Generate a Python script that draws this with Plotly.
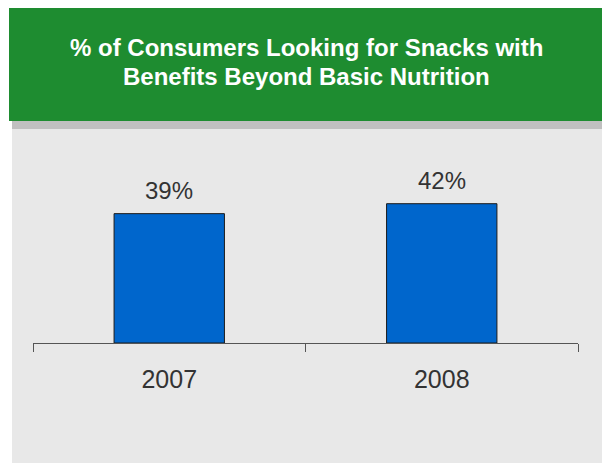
import plotly.graph_objects as go

years = ["2007", "2008"]
values = [39, 42]
labels = ["39%", "42%"]
title_lines = ["% of Consumers Looking for Snacks with", "Benefits Beyond Basic Nutrition"]

W, H = 610, 463
FONT = "Liberation Sans, Arial, Helvetica, sans-serif"

def px(x):
    return x / W

def py(y):
    return 1 - y / H

fig = go.Figure()
fig.add_trace(go.Bar(
    x=years, y=values,
    marker=dict(color="#0066CC", line=dict(color="#1a1a1a", width=1)),
    width=0.405, hoverinfo="x+y",
))

shapes = [
    # panel
    dict(type="rect", xref="paper", yref="paper", x0=px(4), x1=px(615), y0=py(470), y1=py(121),
         fillcolor="#E8E8E8", line=dict(width=0), layer="below"),
    # shadow
    dict(type="rect", xref="paper", yref="paper", x0=px(4), x1=px(600), y0=py(121), y1=py(3),
         fillcolor="#C0C0C0", line=dict(width=0), layer="below"),
    # green header
    dict(type="rect", xref="paper", yref="paper", x0=px(1), x1=px(597), y0=py(113), y1=py(-5),
         fillcolor="#1E8C30", line=dict(width=0), layer="below"),
]

annotations = [
    dict(text="<b>" + t + "</b>", xref="paper", yref="paper", x=px(298.5), y=py(yc),
         xanchor="center", yanchor="middle", showarrow=False,
         font=dict(family=FONT, size=24, color="white"))
    for t, yc in zip(title_lines, [39.5, 68.5])
]
# value labels above bars (category index positions on the category axis)
annotations += [
    dict(text=lab, x=i, y=v, xref="x", yref="y", xanchor="center", yanchor="bottom",
         yshift=8, showarrow=False, font=dict(family=FONT, size=24, color="#333333"))
    for i, (v, lab) in enumerate(zip(values, labels))
]

fig.update_layout(
    width=W, height=H,
    margin=dict(l=0, r=0, t=0, b=0),
    paper_bgcolor="white", plot_bgcolor="rgba(0,0,0,0)",
    showlegend=False,
    shapes=shapes,
    annotations=annotations,
    xaxis=dict(
        domain=[px(25), px(570)], range=[-0.5, 1.5], type="category",
        showline=True, linecolor="#555555", linewidth=1,
        ticks="outside", tickson="boundaries", ticklen=8, tickcolor="#555555",
        tickfont=dict(family=FONT, size=25, color="#333333"),
        ticklabelstandoff=14, showgrid=False, zeroline=False, anchor="y",
    ),
    yaxis=dict(
        domain=[py(335), py(136)], range=[0, 60], visible=False, showgrid=False,
    ),
)

fig.write_html("out.html")
